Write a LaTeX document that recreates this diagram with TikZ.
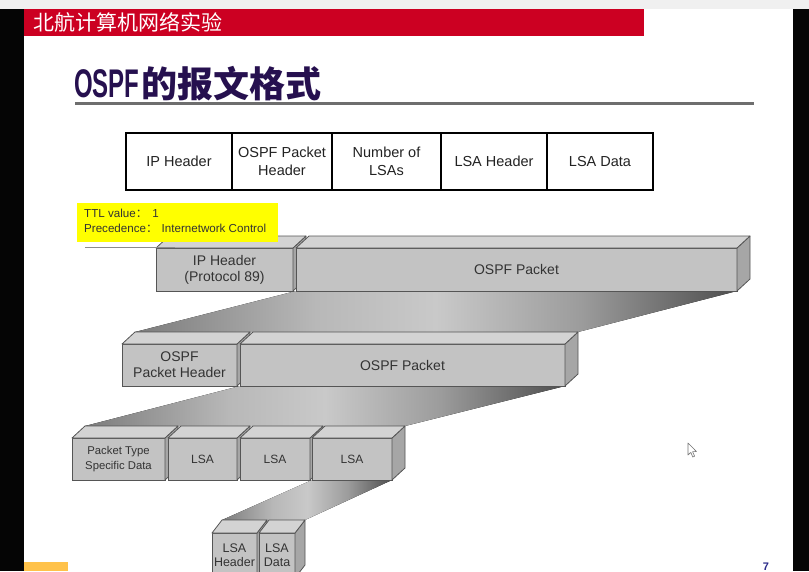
\documentclass[tikz,border=0pt]{standalone}
\usepackage{fontspec}
\setmainfont{Liberation Sans}
\newfontfamily\cjk{Noto Sans CJK SC}
\usetikzlibrary{calc}

% palette
\definecolor{headred}{HTML}{CC0022}
\definecolor{titlecol}{HTML}{26104F}
\definecolor{rulecol}{HTML}{6E6E6E}
\definecolor{frontcol}{HTML}{C3C3C3}
\definecolor{topcol}{HTML}{D3D3D3}
\definecolor{sidecol}{HTML}{A6A6A6}
\definecolor{edgecol}{HTML}{555555}
\definecolor{boxtext}{HTML}{333333}
\definecolor{celltext}{HTML}{222222}
\definecolor{notecol}{HTML}{FFFF00}
\definecolor{pagenum}{HTML}{2A2A8A}
\definecolor{tabcol}{HTML}{FFC24A}
\definecolor{stripcol}{HTML}{F0F0F0}
\definecolor{bandcol}{HTML}{050505}
\definecolor{ribA}{HTML}{7C7C7C}
\definecolor{ribB}{HTML}{B8B8B8}
\definecolor{ribC}{HTML}{C9C9C9}
\definecolor{ribD}{HTML}{9C9C9C}
\definecolor{ribE}{HTML}{4E4E4E}

% twisted band between two packet levels
\pgfdeclarehorizontalshading{twistshade}{100bp}{color(0bp)=(ribA); color(25bp)=(ribA);
  color(40bp)=(ribB); color(50bp)=(ribC); color(62bp)=(ribD); color(75bp)=(ribE); color(100bp)=(ribE)}

\pgfdeclarelayer{base}
\pgfdeclarelayer{bands}
\pgfsetlayers{base,bands,main}

% depth of the 3-D slabs
\newcommand\bdx{13}
\newcommand\bdy{-12}

% \slab[node options]{name}{x}{y}{width}{height}{text}
\newcommand\slab[7][]{%
  \node[facefront,#1,minimum width=#5,minimum height=#6,anchor=north west] (#2) at (#3,#4) {#7};
  \filldraw[faceside] (#2.north east) -- ++(\bdx,\bdy) -- ++(0,#6) -- (#2.south east) -- cycle;
  \filldraw[facetop] (#2.north west) -- ++(\bdx,\bdy) -- ($(#2.north east)+(\bdx,\bdy)$) -- (#2.north east) -- cycle;
}

\begin{document}
\begin{tikzpicture}[x=1pt,y=-1pt,
  facefront/.style={draw=edgecol,fill=frontcol,line width=0.8pt,outer sep=0pt,inner sep=1pt,
    align=center,text=boxtext,font=\fontsize{14}{16}\selectfont},
  faceside/.style={draw=edgecol,fill=sidecol,line width=0.8pt,line join=round},
  facetop/.style={draw=edgecol,fill=topcol,line width=0.8pt,line join=round},
  cell/.style={draw=black,line width=1.2pt,outer sep=0pt,minimum height=57,inner sep=1pt,
    align=center,text=celltext,font=\fontsize{14.5}{18.5}\selectfont,anchor=north west},
  twist/.style={shading=twistshade},
  notetext/.style={anchor=base west,inner sep=0,text=boxtext,font=\fontsize{11.6}{15}\selectfont},
]
\useasboundingbox (0,0) rectangle (809,571);

% slide background
\begin{pgfonlayer}{base}
  \fill[white] (24,9) rectangle (793,571);
  \fill[headred] (24,9) rectangle (644,36);
  \fill[tabcol] (24,562) rectangle (68,571);
\end{pgfonlayer}

% header and title
\node[anchor=west,inner sep=0,text=white,font=\cjk\fontsize{21}{21}\selectfont] (course) at (33,22.5) {北航计算机网络实验};
\node[anchor=west,inner sep=0,text=titlecol] (title) at (74,84)
  {\scalebox{0.6}[1]{\fontsize{40}{40}\selectfont\bfseries OSPF}\hspace{2pt}{\cjk\bfseries\fontsize{36}{36}\selectfont 的报文格式}};
\draw[rulecol,line width=3pt] (75,103.5) -- (754,103.5);

% flat packet layout
\node[cell,minimum width=106] (tIP)  at (126,133) {IP Header};
\node[cell,minimum width=100] (tOH)  at (232,133) {OSPF Packet\\Header};
\node[cell,minimum width=109] (tNum) at (332,133) {Number of\\LSAs};
\node[cell,minimum width=106] (tLH)  at (441,133) {LSA Header};
\node[cell,minimum width=106] (tLD)  at (547,133) {LSA Data};

% level 1: IP datagram
\slab{aIP}{156}{248}{137}{43}{IP Header\\(Protocol 89)}
\slab{aPk}{296}{248}{441}{43}{OSPF Packet}
\draw[black!45,line width=1pt] (85,247.5) -- (175,247.5);

% note on the IP header
\fill[notecol] (77,203) rectangle (278,242);
\node[notetext] (ttl1) at (84,217) {TTL value{\cjk ：}\hspace{5pt}1};
\node[notetext] (ttl2) at (84,232) {Precedence{\cjk ：}\hspace{4pt}Internetwork Control};

% level 2: OSPF packet
\slab{bHd}{122}{344}{115}{42}{OSPF\\Packet Header}
\slab{bPk}{240}{344}{325}{42}{OSPF Packet}

% level 3: packet body
\slab[font=\fontsize{11.3}{15}\selectfont]{cSp}{72}{438}{93}{42}{Packet Type\\Specific Data}
\slab[font=\fontsize{12}{14}\selectfont]{cL1}{168}{438}{69}{42}{LSA}
\slab[font=\fontsize{12}{14}\selectfont]{cL2}{240}{438}{70}{42}{LSA}
\slab[font=\fontsize{12}{14}\selectfont]{cL3}{312}{438}{80}{42}{LSA}

% level 4: one LSA
\renewcommand\bdx{10}
\renewcommand\bdy{-13}
\slab[font=\fontsize{12.5}{14}\selectfont]{dHd}{212}{533}{45}{45}{LSA\\Header}
\slab[font=\fontsize{12.5}{14}\selectfont]{dDt}{259}{533}{36}{45}{LSA\\Data}

% bands from each field to its expansion
\begin{pgfonlayer}{bands}
  \fill[twist] (aPk.south west) -- (aPk.south east)
    -- ($(bPk.north east)+(13,-12)$) -- ($(bHd.north west)+(13,-12)$) -- cycle;
  \fill[twist] (bPk.south west) -- (bPk.south east)
    -- ($(cL3.north east)+(13,-12)$) -- ($(cSp.north west)+(13,-12)$) -- cycle;
  \fill[twist] (cL3.south west) -- (cL3.south east)
    -- ($(dDt.north east)+(10,-13)$) -- ($(dHd.north west)+(10,-13)$) -- cycle;
\end{pgfonlayer}

% pointer and page number
\filldraw[fill=white,draw=black!55,line width=0.6pt,line join=round]
  (688,443) -- (688,455) -- (690.8,452.4) -- (692.8,457) -- (694.6,456.2) -- (692.6,451.7) -- (696.4,451.5) -- cycle;
\node[anchor=base,inner sep=0,text=pagenum,font=\bfseries\fontsize{11}{11}\selectfont] (page) at (766,570.2) {7};

% screen surround: grey strip on top, dark bands at the sides
\fill[stripcol] (0,0) rectangle (809,9);
\fill[bandcol] (0,9) rectangle (24,571);
\fill[bandcol] (793,9) rectangle (809,571);
\end{tikzpicture}
\end{document}
